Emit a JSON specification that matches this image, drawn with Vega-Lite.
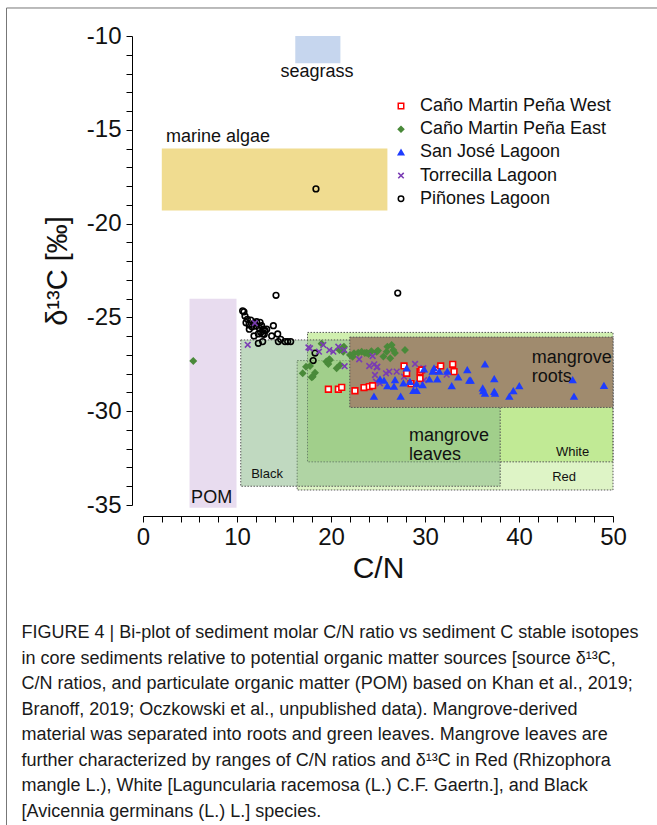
{
  "$schema": "https://vega.github.io/schema/vega-lite/v6.json",
  "width": 470,
  "height": 469,
  "autosize": {"type": "none"},
  "padding": {"left": 143, "top": 36, "right": 44, "bottom": 320},
  "background": "white",
  "config": {
    "view": {"stroke": null},
    "font": "Liberation Sans",
    "legend": {
      "orient": "none", "legendX": 249, "legendY": 61, "padding": 0,
      "labelFont": "Liberation Sans", "labelFontSize": 18, "labelColor": "#111", "labelLimit": 400,
      "symbolSize": 30, "symbolStrokeWidth": 1.5, "rowPadding": 5.2, "labelOffset": 10
    }
  },
  "title": {
    "text": "FIGURE 4 | Bi-plot of sediment molar C/N ratio vs sediment C stable isotopes",
    "subtitle": [
      "in core sediments relative to potential organic matter sources [source δ¹³C,",
      "C/N ratios, and particulate organic matter (POM) based on Khan et al., 2019;",
      "Branoff, 2019; Oczkowski et al., unpublished data). Mangrove-derived",
      "material was separated into roots and green leaves. Mangrove leaves are",
      "further characterized by ranges of C/N ratios and δ¹³C in Red (Rhizophora",
      "mangle L.), White [Laguncularia racemosa (L.) C.F. Gaertn.], and Black",
      "[Avicennia germinans (L.) L.] species."
    ],
    "orient": "bottom", "anchor": "start", "frame": "bounds",
    "offset": -202, "dx": 15.5,
    "font": "Liberation Sans", "fontSize": 18, "fontWeight": "normal", "color": "#1a1a1a",
    "subtitleFont": "Liberation Sans", "subtitleFontSize": 18, "subtitleFontWeight": "normal", "subtitleColor": "#1a1a1a",
    "subtitleLineHeight": 25.5, "subtitlePadding": 7.5
  },
  "datasets": {
    "regions": [
      {"name": "marine algae", "x1": 2.0, "x2": 26.0, "y1": -19.3, "y2": -16.0},
      {"name": "seagrass", "x1": 16.2, "x2": 21.0, "y1": -11.45, "y2": -10.0},
      {"name": "POM", "x1": 4.95, "x2": 9.95, "y1": -35.15, "y2": -24.0},
      {"name": "Red", "x1": 16.4, "x2": 50, "y1": -34.2, "y2": -27.3},
      {"name": "White", "x1": 17.5, "x2": 50, "y1": -32.7, "y2": -25.8},
      {"name": "Black", "x1": 10.4, "x2": 38, "y1": -34.0, "y2": -26.2},
      {"name": "mangrove roots", "x1": 22.0, "x2": 50, "y1": -29.8, "y2": -26.05}
    ],
    "labels": [
      {"label": "seagrass", "cn": 18.5, "d13c": -11.92, "kind": "source"},
      {"label": "POM", "cn": 7.3, "d13c": -34.63, "kind": "source"},
      {"label": "Black", "cn": 13.2, "d13c": -33.35, "kind": "species"},
      {"label": "White", "cn": 45.7, "d13c": -32.16, "kind": "species"},
      {"label": "Red", "cn": 44.8, "d13c": -33.49, "kind": "species"},
      {"label": "marine algae", "cn": 2.45, "d13c": -15.4, "kind": "source"},
      {"label": "mangrove\nroots", "cn": 41.35, "d13c": -27.14, "kind": "source"},
      {"label": "mangrove\nleaves", "cn": 28.3, "d13c": -31.31, "kind": "source"}
    ],
    "samples": [
      {"site": "Piñones Lagoon", "cn": 18.4, "d13c": -18.15},
      {"site": "Piñones Lagoon", "cn": 14.15, "d13c": -23.82},
      {"site": "Piñones Lagoon", "cn": 27.1, "d13c": -23.7},
      {"site": "Piñones Lagoon", "cn": 10.6, "d13c": -24.65},
      {"site": "Piñones Lagoon", "cn": 10.74, "d13c": -24.7},
      {"site": "Piñones Lagoon", "cn": 10.85, "d13c": -24.93},
      {"site": "Piñones Lagoon", "cn": 11.1, "d13c": -25.1},
      {"site": "Piñones Lagoon", "cn": 10.96, "d13c": -25.28},
      {"site": "Piñones Lagoon", "cn": 11.28, "d13c": -25.4},
      {"site": "Piñones Lagoon", "cn": 11.31, "d13c": -25.63},
      {"site": "Piñones Lagoon", "cn": 11.46, "d13c": -25.14},
      {"site": "Piñones Lagoon", "cn": 11.6, "d13c": -25.5},
      {"site": "Piñones Lagoon", "cn": 11.81, "d13c": -25.31},
      {"site": "Piñones Lagoon", "cn": 12.02, "d13c": -25.46},
      {"site": "Piñones Lagoon", "cn": 12.09, "d13c": -25.23},
      {"site": "Piñones Lagoon", "cn": 12.45, "d13c": -25.26},
      {"site": "Piñones Lagoon", "cn": 12.62, "d13c": -25.44},
      {"site": "Piñones Lagoon", "cn": 12.38, "d13c": -25.58},
      {"site": "Piñones Lagoon", "cn": 12.8, "d13c": -25.63},
      {"site": "Piñones Lagoon", "cn": 12.98, "d13c": -25.71},
      {"site": "Piñones Lagoon", "cn": 13.16, "d13c": -25.63},
      {"site": "Piñones Lagoon", "cn": 12.52, "d13c": -25.81},
      {"site": "Piñones Lagoon", "cn": 12.73, "d13c": -25.88},
      {"site": "Piñones Lagoon", "cn": 12.27, "d13c": -25.88},
      {"site": "Piñones Lagoon", "cn": 12.9, "d13c": -25.9},
      {"site": "Piñones Lagoon", "cn": 11.81, "d13c": -25.99},
      {"site": "Piñones Lagoon", "cn": 13.87, "d13c": -25.44},
      {"site": "Piñones Lagoon", "cn": 13.69, "d13c": -25.99},
      {"site": "Piñones Lagoon", "cn": 14.33, "d13c": -25.88},
      {"site": "Piñones Lagoon", "cn": 14.4, "d13c": -26.29},
      {"site": "Piñones Lagoon", "cn": 14.65, "d13c": -26.17},
      {"site": "Piñones Lagoon", "cn": 15.11, "d13c": -26.29},
      {"site": "Piñones Lagoon", "cn": 15.39, "d13c": -26.29},
      {"site": "Piñones Lagoon", "cn": 15.71, "d13c": -26.29},
      {"site": "Piñones Lagoon", "cn": 12.73, "d13c": -26.29},
      {"site": "Piñones Lagoon", "cn": 12.27, "d13c": -26.38},
      {"site": "Piñones Lagoon", "cn": 18.3, "d13c": -26.9},
      {"site": "Piñones Lagoon", "cn": 18.1, "d13c": -27.3},
      {"site": "Caño Martin Peña East", "cn": 5.35, "d13c": -27.32},
      {"site": "Caño Martin Peña East", "cn": 16.99, "d13c": -27.98},
      {"site": "Caño Martin Peña East", "cn": 17.34, "d13c": -27.63},
      {"site": "Caño Martin Peña East", "cn": 17.77, "d13c": -27.59},
      {"site": "Caño Martin Peña East", "cn": 17.94, "d13c": -28.19},
      {"site": "Caño Martin Peña East", "cn": 18.05, "d13c": -28.16},
      {"site": "Caño Martin Peña East", "cn": 18.3, "d13c": -27.95},
      {"site": "Caño Martin Peña East", "cn": 19.0, "d13c": -26.4},
      {"site": "Caño Martin Peña East", "cn": 19.5, "d13c": -27.35},
      {"site": "Caño Martin Peña East", "cn": 19.72, "d13c": -27.48},
      {"site": "Caño Martin Peña East", "cn": 19.82, "d13c": -27.23},
      {"site": "Caño Martin Peña East", "cn": 19.89, "d13c": -27.27},
      {"site": "Caño Martin Peña East", "cn": 20.6, "d13c": -27.71},
      {"site": "Caño Martin Peña East", "cn": 20.96, "d13c": -27.54},
      {"site": "Caño Martin Peña East", "cn": 20.9, "d13c": -26.74},
      {"site": "Caño Martin Peña East", "cn": 21.3, "d13c": -26.6},
      {"site": "Caño Martin Peña East", "cn": 21.38, "d13c": -26.56},
      {"site": "Caño Martin Peña East", "cn": 21.3, "d13c": -26.83},
      {"site": "Caño Martin Peña East", "cn": 22.02, "d13c": -27.0},
      {"site": "Caño Martin Peña East", "cn": 22.3, "d13c": -27.1},
      {"site": "Caño Martin Peña East", "cn": 22.45, "d13c": -26.91},
      {"site": "Caño Martin Peña East", "cn": 22.9, "d13c": -26.88},
      {"site": "Caño Martin Peña East", "cn": 23.26, "d13c": -26.83},
      {"site": "Caño Martin Peña East", "cn": 23.6, "d13c": -26.9},
      {"site": "Caño Martin Peña East", "cn": 23.8, "d13c": -26.88},
      {"site": "Caño Martin Peña East", "cn": 24.0, "d13c": -26.95},
      {"site": "Caño Martin Peña East", "cn": 24.3, "d13c": -26.8},
      {"site": "Caño Martin Peña East", "cn": 24.86, "d13c": -26.83},
      {"site": "Caño Martin Peña East", "cn": 25.0, "d13c": -26.77},
      {"site": "Caño Martin Peña East", "cn": 25.57, "d13c": -27.09},
      {"site": "Caño Martin Peña East", "cn": 25.92, "d13c": -26.83},
      {"site": "Caño Martin Peña East", "cn": 26.0, "d13c": -26.56},
      {"site": "Caño Martin Peña East", "cn": 26.45, "d13c": -26.47},
      {"site": "Caño Martin Peña East", "cn": 26.63, "d13c": -26.74},
      {"site": "Caño Martin Peña East", "cn": 26.8, "d13c": -26.9},
      {"site": "Caño Martin Peña East", "cn": 26.3, "d13c": -27.18},
      {"site": "Caño Martin Peña East", "cn": 27.87, "d13c": -26.74},
      {"site": "Torrecilla Lagoon", "cn": 11.14, "d13c": -26.46},
      {"site": "Torrecilla Lagoon", "cn": 11.9, "d13c": -25.3},
      {"site": "Torrecilla Lagoon", "cn": 17.6, "d13c": -26.6},
      {"site": "Torrecilla Lagoon", "cn": 17.77, "d13c": -26.65},
      {"site": "Torrecilla Lagoon", "cn": 18.72, "d13c": -26.83},
      {"site": "Torrecilla Lagoon", "cn": 19.18, "d13c": -26.47},
      {"site": "Torrecilla Lagoon", "cn": 19.82, "d13c": -26.74},
      {"site": "Torrecilla Lagoon", "cn": 20.25, "d13c": -26.83},
      {"site": "Torrecilla Lagoon", "cn": 20.78, "d13c": -26.56},
      {"site": "Torrecilla Lagoon", "cn": 21.42, "d13c": -26.74},
      {"site": "Torrecilla Lagoon", "cn": 21.45, "d13c": -27.6},
      {"site": "Torrecilla Lagoon", "cn": 23.0, "d13c": -27.23},
      {"site": "Torrecilla Lagoon", "cn": 24.07, "d13c": -27.59},
      {"site": "Torrecilla Lagoon", "cn": 24.43, "d13c": -27.06},
      {"site": "Torrecilla Lagoon", "cn": 24.6, "d13c": -27.5},
      {"site": "Torrecilla Lagoon", "cn": 24.86, "d13c": -27.66},
      {"site": "Torrecilla Lagoon", "cn": 24.93, "d13c": -27.63},
      {"site": "Torrecilla Lagoon", "cn": 24.68, "d13c": -28.07},
      {"site": "Torrecilla Lagoon", "cn": 24.79, "d13c": -28.43},
      {"site": "Torrecilla Lagoon", "cn": 25.2, "d13c": -28.51},
      {"site": "Torrecilla Lagoon", "cn": 25.85, "d13c": -27.98},
      {"site": "Torrecilla Lagoon", "cn": 26.2, "d13c": -27.89},
      {"site": "Torrecilla Lagoon", "cn": 26.99, "d13c": -27.89},
      {"site": "Torrecilla Lagoon", "cn": 27.77, "d13c": -28.16},
      {"site": "Torrecilla Lagoon", "cn": 28.94, "d13c": -27.48},
      {"site": "Torrecilla Lagoon", "cn": 29.82, "d13c": -27.71},
      {"site": "Torrecilla Lagoon", "cn": 29.9, "d13c": -28.34},
      {"site": "Torrecilla Lagoon", "cn": 32.3, "d13c": -28.05},
      {"site": "Caño Martin Peña West", "cn": 19.72, "d13c": -28.83},
      {"site": "Caño Martin Peña West", "cn": 20.78, "d13c": -28.83},
      {"site": "Caño Martin Peña West", "cn": 21.14, "d13c": -28.73},
      {"site": "Caño Martin Peña West", "cn": 22.55, "d13c": -28.91},
      {"site": "Caño Martin Peña West", "cn": 23.51, "d13c": -28.74},
      {"site": "Caño Martin Peña West", "cn": 24.07, "d13c": -28.69},
      {"site": "Caño Martin Peña West", "cn": 24.43, "d13c": -28.64},
      {"site": "Caño Martin Peña West", "cn": 27.77, "d13c": -27.59},
      {"site": "Caño Martin Peña West", "cn": 28.05, "d13c": -27.98},
      {"site": "Caño Martin Peña West", "cn": 28.51, "d13c": -28.53},
      {"site": "Caño Martin Peña West", "cn": 29.47, "d13c": -27.89},
      {"site": "Caño Martin Peña West", "cn": 29.65, "d13c": -27.8},
      {"site": "Caño Martin Peña West", "cn": 29.47, "d13c": -28.25},
      {"site": "Caño Martin Peña West", "cn": 31.31, "d13c": -27.8},
      {"site": "Caño Martin Peña West", "cn": 31.67, "d13c": -27.59},
      {"site": "Caño Martin Peña West", "cn": 32.95, "d13c": -27.5},
      {"site": "Caño Martin Peña West", "cn": 33.09, "d13c": -27.89},
      {"site": "San José Lagoon", "cn": 24.57, "d13c": -29.22},
      {"site": "San José Lagoon", "cn": 25.21, "d13c": -28.3},
      {"site": "San José Lagoon", "cn": 25.64, "d13c": -28.37},
      {"site": "San José Lagoon", "cn": 25.99, "d13c": -28.66},
      {"site": "San José Lagoon", "cn": 26.7, "d13c": -28.69},
      {"site": "San José Lagoon", "cn": 26.81, "d13c": -28.34},
      {"site": "San José Lagoon", "cn": 27.41, "d13c": -29.22},
      {"site": "San José Lagoon", "cn": 27.7, "d13c": -28.51},
      {"site": "San José Lagoon", "cn": 28.05, "d13c": -27.71},
      {"site": "San José Lagoon", "cn": 28.4, "d13c": -28.43},
      {"site": "San José Lagoon", "cn": 28.76, "d13c": -28.91},
      {"site": "San José Lagoon", "cn": 29.11, "d13c": -28.91},
      {"site": "San José Lagoon", "cn": 29.11, "d13c": -28.55},
      {"site": "San José Lagoon", "cn": 29.75, "d13c": -28.6},
      {"site": "San José Lagoon", "cn": 29.89, "d13c": -27.77},
      {"site": "San José Lagoon", "cn": 30.46, "d13c": -28.3},
      {"site": "San José Lagoon", "cn": 30.82, "d13c": -27.89},
      {"site": "San José Lagoon", "cn": 30.96, "d13c": -27.71},
      {"site": "San José Lagoon", "cn": 31.31, "d13c": -28.3},
      {"site": "San José Lagoon", "cn": 31.52, "d13c": -27.89},
      {"site": "San José Lagoon", "cn": 32.37, "d13c": -27.89},
      {"site": "San José Lagoon", "cn": 32.84, "d13c": -28.66},
      {"site": "San José Lagoon", "cn": 33.54, "d13c": -28.19},
      {"site": "San José Lagoon", "cn": 34.5, "d13c": -27.8},
      {"site": "San José Lagoon", "cn": 34.71, "d13c": -28.37},
      {"site": "San José Lagoon", "cn": 34.86, "d13c": -28.37},
      {"site": "San José Lagoon", "cn": 36.14, "d13c": -28.78},
      {"site": "San José Lagoon", "cn": 36.2, "d13c": -28.92},
      {"site": "San José Lagoon", "cn": 36.38, "d13c": -29.05},
      {"site": "San José Lagoon", "cn": 36.38, "d13c": -27.5},
      {"site": "San José Lagoon", "cn": 37.37, "d13c": -28.28},
      {"site": "San José Lagoon", "cn": 37.37, "d13c": -28.96},
      {"site": "San José Lagoon", "cn": 37.45, "d13c": -29.05},
      {"site": "San José Lagoon", "cn": 38.97, "d13c": -29.22},
      {"site": "San José Lagoon", "cn": 39.4, "d13c": -28.92},
      {"site": "San José Lagoon", "cn": 40.03, "d13c": -28.66},
      {"site": "San José Lagoon", "cn": 45.71, "d13c": -28.34},
      {"site": "San José Lagoon", "cn": 45.85, "d13c": -29.22},
      {"site": "San José Lagoon", "cn": 49.04, "d13c": -28.64}
    ]
  },
  "resolve": {"scale": {"fill": "independent", "stroke": "independent", "shape": "independent", "size": "independent"}, "legend": {"fill": "independent", "stroke": "independent", "shape": "independent", "size": "independent"}},
  "layer": [
    {
      "data": {"name": "regions"},
      "mark": {"type": "rect", "strokeWidth": 1, "strokeDash": [1.5, 1.5]},
      "encoding": {
        "x": {"field": "x1", "type": "quantitative", "scale": {"domain": [0, 50], "nice": false, "zero": false},
          "axis": {"title": "C/N", "values": [0,2,4,6,8,10,12,14,16,18,20,22,24,26,28,30,32,34,36,38,40,42,44,46,48,50], "tickCount": 200,
            "labelExpr": "datum.value % 10 == 0 ? toString(datum.value) : ''",
            "offset": 11, "grid": false, "tickSize": 6, "tickColor": "#000", "domainColor": "#000",
            "labelFont": "Liberation Sans", "labelFontSize": 24, "labelColor": "#111", "labelPadding": 3, "labelFlush": false, "labelOverlap": false,
            "titleFont": "Liberation Sans", "titleFontSize": 30, "titleFontWeight": "normal", "titleColor": "#111", "titlePadding": 4}},
        "x2": {"field": "x2"},
        "y": {"field": "y1", "type": "quantitative", "scale": {"domain": [-35, -10], "nice": false, "zero": false},
          "axis": {"title": "δ¹³C [‰]", "values": [-35,-34,-33,-32,-31,-30,-29,-28,-27,-26,-25,-24,-23,-22,-21,-20,-19,-18,-17,-16,-15,-14,-13,-12,-11,-10], "tickCount": 200,
            "labelExpr": "datum.value % 5 == 0 ? toString(datum.value) : ''",
            "offset": 11, "grid": false, "tickSize": 6, "tickColor": "#000", "domainColor": "#000",
            "labelFont": "Liberation Sans", "labelFontSize": 24, "labelColor": "#111", "labelPadding": 5, "labelFlush": false, "labelOverlap": false,
            "titleFont": "Liberation Sans", "titleFontSize": 29, "titleFontWeight": "normal", "titleColor": "#111", "titlePadding": 14}},
        "y2": {"field": "y2"},
        "fill": {"field": "name", "type": "nominal", "legend": null,
          "scale": {"domain": ["marine algae", "seagrass", "POM", "Red", "White", "Black", "mangrove roots"],
            "range": ["#f0dc90", "#c6d6ee", "#e8dcef", "rgba(200,236,160,0.6)", "rgba(170,225,110,0.55)", "rgba(130,180,130,0.5)", "#a08b6e"]}},
        "stroke": {"field": "name", "type": "nominal", "legend": null,
          "scale": {"domain": ["marine algae", "seagrass", "POM", "Red", "White", "Black", "mangrove roots"],
            "range": ["transparent", "transparent", "transparent", "#555555", "#555555", "#555555", "#555555"]}}
      }
    },
    {
      "data": {"values": [{}]},
      "mark": {"type": "rule", "color": "#777777", "strokeWidth": 1},
      "encoding": {
        "x": {"datum": -14.52, "type": "quantitative"},
        "y": {"datum": -8.507, "type": "quantitative"},
        "y2": {"datum": -52.1}
      }
    },
    {
      "data": {"values": [{}]},
      "mark": {"type": "rule", "color": "#777777", "strokeWidth": 1},
      "encoding": {
        "x": {"datum": -14.52, "type": "quantitative"},
        "x2": {"datum": 56},
        "y": {"datum": -8.507, "type": "quantitative"}
      }
    },
    {
      "data": {"name": "labels"},
      "transform": [{"filter": {"field": "label", "oneOf": ["seagrass", "POM", "Black", "White", "Red"]}}],
      "mark": {"type": "text", "align": "center", "baseline": "middle", "font": "Liberation Sans", "color": "#111"},
      "encoding": {
        "x": {"field": "cn", "type": "quantitative", "title": "C/N"},
        "y": {"field": "d13c", "type": "quantitative", "title": "δ¹³C [‰]"},
        "text": {"field": "label"},
        "size": {"field": "kind", "type": "nominal", "legend": null, "scale": {"domain": ["source", "species"], "range": [18, 13]}}
      }
    },
    {
      "data": {"name": "labels"},
      "transform": [{"filter": {"field": "label", "oneOf": ["marine algae", "mangrove\nroots", "mangrove\nleaves"]}}],
      "mark": {"type": "text", "align": "left", "baseline": "middle", "font": "Liberation Sans", "color": "#111", "lineBreak": "\n", "lineHeight": 19},
      "encoding": {
        "x": {"field": "cn", "type": "quantitative", "title": "C/N"},
        "y": {"field": "d13c", "type": "quantitative", "title": "δ¹³C [‰]"},
        "text": {"field": "label"},
        "size": {"field": "kind", "type": "nominal", "legend": null, "scale": {"domain": ["source", "species"], "range": [18, 13]}}
      }
    },
    {
      "data": {"name": "samples"},
      "mark": {"type": "point", "size": 32, "strokeWidth": 1.6, "opacity": 1},
      "encoding": {
        "x": {"field": "cn", "type": "quantitative", "title": "C/N"},
        "y": {"field": "d13c", "type": "quantitative", "title": "δ¹³C [‰]"},
        "shape": {"field": "site", "type": "nominal", "legend": {"title": null},
          "scale": {"domain": ["Caño Martin Peña West", "Caño Martin Peña East", "San José Lagoon", "Torrecilla Lagoon", "Piñones Lagoon"],
            "range": ["square", "diamond", "triangle-up", "M-1,-1L1,1M-1,1L1,-1", "circle"]}},
        "stroke": {"field": "site", "type": "nominal", "legend": {"title": null},
          "scale": {"domain": ["Caño Martin Peña West", "Caño Martin Peña East", "San José Lagoon", "Torrecilla Lagoon", "Piñones Lagoon"],
            "range": ["#ff0000", "#4a8a3a", "#1e3cff", "#7a3cb4", "#000000"]}},
        "fill": {"field": "site", "type": "nominal", "legend": {"title": null},
          "scale": {"domain": ["Caño Martin Peña West", "Caño Martin Peña East", "San José Lagoon", "Torrecilla Lagoon", "Piñones Lagoon"],
            "range": ["#ffffff", "#4a8a3a", "#1e3cff", "transparent", "transparent"]}}
      }
    }
  ]
}
